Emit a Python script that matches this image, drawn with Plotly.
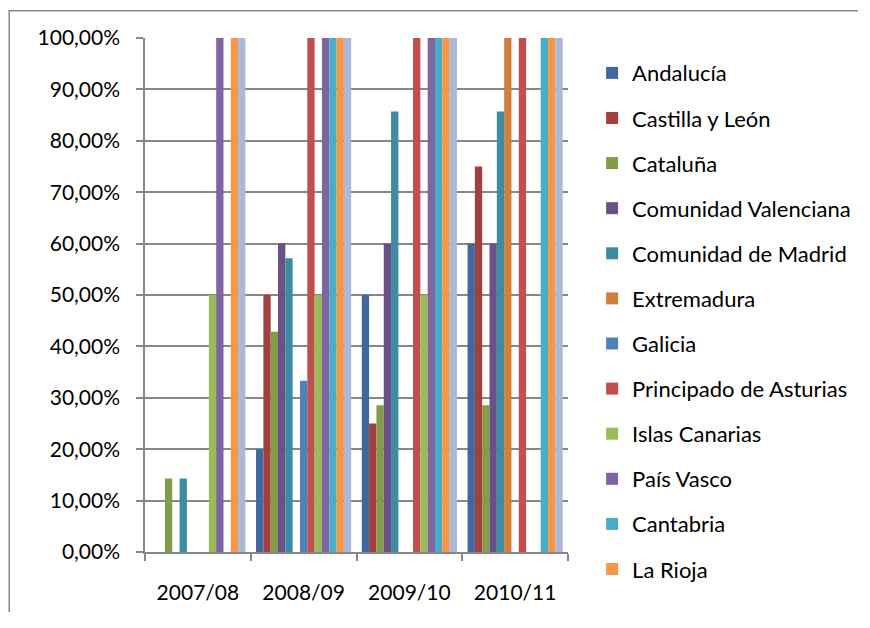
import plotly.graph_objects as go

seasons = ['2007/08', '2008/09', '2009/10', '2010/11']

regions = [
    'Andalucía', 'Castilla y León', 'Cataluña', 'Comunidad Valenciana',
    'Comunidad de Madrid', 'Extremadura', 'Galicia', 'Principado de Asturias',
    'Islas Canarias', 'País Vasco', 'Cantabria', 'La Rioja', 'Navarra',
]

# share per season (fraction), one list per region, same order as `regions`
andalucia = [0, 0.20, 0.50, 0.60]
castilla_leon = [0, 0.50, 0.25, 0.75]
cataluna = [0.1429, 0.4286, 0.2857, 0.2857]
valenciana = [0, 0.60, 0.60, 0.60]
madrid = [0.1429, 0.5714, 0.8571, 0.8571]
extremadura = [0, 0, 0, 1.0]
galicia = [0, 0.3333, 0, 0]
asturias = [0, 1.0, 1.0, 1.0]
canarias = [0.50, 0.50, 0.50, 0]
pais_vasco = [1.0, 1.0, 1.0, 0]
cantabria = [0, 1.0, 1.0, 1.0]
la_rioja = [1.0, 1.0, 1.0, 1.0]
navarra = [1.0, 1.0, 1.0, 1.0]

values = [andalucia, castilla_leon, cataluna, valenciana, madrid, extremadura,
          galicia, asturias, canarias, pais_vasco, cantabria, la_rioja, navarra]

colors = [
    '#4068A0', '#A2403E', '#839C4A', '#6A5187', '#3C8DA3', '#D07F3A',
    '#4F81BD', '#C0504D', '#9BBB59', '#8064A2', '#4BACC6', '#F79646', '#AAB9D8',
]

_FONT = 'Lato, Carlito, Calibri, sans-serif'
_AXIS_GREY = '#878787'

fig = go.Figure()
for i, (name, vals) in enumerate(zip(regions, values)):
    fig.add_trace(go.Bar(
        x=seasons, y=vals, name=name,
        marker=dict(color=colors[i], line=dict(width=0)),
        legendgroup=name,
        showlegend=i < 12,  # last series has no legend entry in the original
    ))

# outer chart border: one open path along the left and top edges
fig.add_shape(type='path', xref='paper', yref='paper',
              path='M -0.321,-0.117 L -0.321,1.053 L 1.686,1.053',
              fillcolor='rgba(0,0,0,0)',
              line=dict(color=_AXIS_GREY, width=1.5), layer='below')

# page body has an 8px margin on every side; keep the figure inside the window
fig.update_layout(
    width=850, height=604,
    barmode='group', bargap=0.1, bargroupgap=0,
    plot_bgcolor='white', paper_bgcolor='white',
    font=dict(family=_FONT, size=21, color='#000000'),
    margin=dict(l=137, r=290, t=30, b=60, autoexpand=False),
    separators=',.',
    xaxis=dict(
        showline=True, linecolor=_AXIS_GREY, linewidth=1.5,
        ticks='outside', tickson='boundaries', ticklen=7, tickcolor=_AXIS_GREY,
        tickwidth=1.5, ticklabelstandoff=21, showgrid=False,
    ),
    yaxis=dict(
        range=[0, 1], dtick=0.1, tickformat='.2%',
        showline=True, linecolor=_AXIS_GREY, linewidth=1.5,
        ticks='outside', ticklen=7, tickcolor=_AXIS_GREY, tickwidth=1.5,
        showgrid=True, gridcolor=_AXIS_GREY, gridwidth=1.5,
        zeroline=False, ticklabelstandoff=12,
    ),
    legend=dict(
        x=1.057, xanchor='left', yref='container', y=0.927, yanchor='top',
        font=dict(size=22), tracegroupgap=13.5, itemwidth=30, maxheight=600,
        bgcolor='rgba(0,0,0,0)',
    ),
)

fig.write_html('out.html')
